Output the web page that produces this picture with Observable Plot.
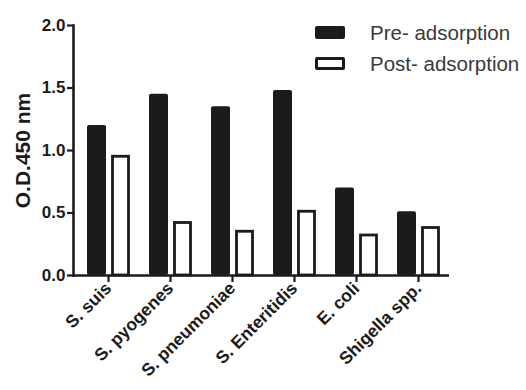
<!DOCTYPE html>
<html><head><meta charset="utf-8">
<script src="https://cdn.jsdelivr.net/npm/d3@7"></script>
<script src="https://cdn.jsdelivr.net/npm/@observablehq/plot@0.6"></script>
<style>
body{margin:0;background:#fff;}
#chart{position:relative;width:526px;height:390px;font-family:"Liberation Sans",Arial,sans-serif;}
.sw{position:absolute;left:315px;width:30px;height:13px;box-sizing:border-box;border-radius:2px;}
.lt{position:absolute;left:370px;font-size:20.5px;line-height:20px;color:#3a3a3a;white-space:nowrap;}
</style></head>
<body><div id="chart"></div>
<script>
const categories = ["S. suis","S. pyogenes","S. pneumoniae","S. Enteritidis","E. coli","Shigella spp."];
const preAdsorption = [1.20,1.45,1.35,1.48,0.70,0.51];
const postAdsorption = [0.95,0.42,0.35,0.51,0.32,0.38];
const seriesNames = ["Pre- adsorption","Post- adsorption"];
const yTicks = [0,0.5,1,1.5,2];
const yLabel = "O.D.450 nm";

const pre = categories.map((c,i)=>({category:c, value:preAdsorption[i]}));
const post = categories.map((c,i)=>({category:c, value:postAdsorption[i]}));
const ink = "#1b1b1b";

const chart = Plot.plot({
  width:526, height:390,
  marginTop:25, marginBottom:115, marginLeft:73, marginRight:77,
  style:{fontFamily:"'Liberation Sans', Arial, sans-serif", background:"transparent", color:ink},
  x:{domain:categories, range:[77,449], padding:0, label:null},
  y:{domain:[0,2], label:null},
  marks:[
    Plot.barY(pre,{x:"category", y:"value", fill:ink, insetLeft:10, insetRight:33, rx:2}),
    Plot.barY(post,{x:"category", y:"value", fill:"white", stroke:ink, strokeWidth:2.8, insetLeft:35.5, insetRight:10.5}),
    Plot.ruleY([0],{stroke:ink, strokeWidth:2.6}),
    Plot.frame({anchor:"left", stroke:ink, strokeWidth:2.6}),
    Plot.axisY({ticks:yTicks, tickFormat:d3.format(".1f"), tickSize:6, tickPadding:2, fontSize:17, fontWeight:"bold", label:null, strokeWidth:2.2}),
    Plot.axisX({tickSize:7, tickRotate:-45, tickPadding:3, fontSize:17.5, fontWeight:"bold", label:null, strokeWidth:2.2}),
    Plot.text([yLabel],{text:d=>d, frameAnchor:"left", textAnchor:"middle", lineAnchor:"middle", dx:-50, rotate:-90, fontSize:21, fontWeight:"bold", fill:ink})
  ]
});
const root = document.getElementById("chart");
root.appendChild(chart);
const lg = [
  {name:seriesNames[0], top:26, style:"background:"+ink+";"},
  {name:seriesNames[1], top:57, style:"background:#fff;border:3px solid "+ink+";"}
];
lg.forEach(d=>{
  const s=document.createElement("div"); s.className="sw"; s.style.cssText="top:"+d.top+"px;"+d.style; root.appendChild(s);
  const t=document.createElement("div"); t.className="lt"; t.style.top=(d.top-3)+"px"; t.textContent=d.name; root.appendChild(t);
});
</script>
</body></html>
